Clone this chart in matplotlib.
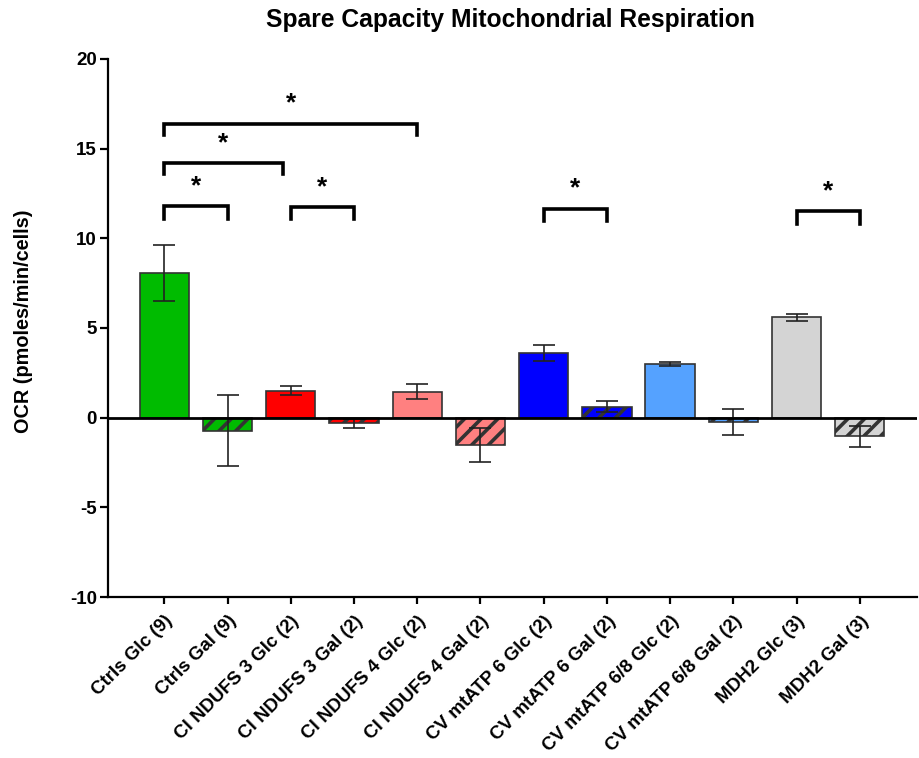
import matplotlib
matplotlib.use("Agg")
import matplotlib.pyplot as plt
import numpy as np

plt.rcParams['font.family'] = ['Liberation Sans', 'DejaVu Sans']
plt.rcParams['hatch.linewidth'] = 2.6
plt.rcParams['hatch.color'] = 'black'

labels = ["Ctrls Glc (9)", "Ctrls Gal (9)", "CI NDUFS 3 Glc (2)", "CI NDUFS 3 Gal (2)",
          "CI NDUFS 4 Glc (2)", "CI NDUFS 4 Gal (2)", "CV mtATP 6 Glc (2)", "CV mtATP 6 Gal (2)",
          "CV mtATP 6/8 Glc (2)", "CV mtATP 6/8 Gal (2)", "MDH2 Glc (3)", "MDH2 Gal (3)"]
means = [8.05, -0.72, 1.5, -0.32, 1.45, -1.55, 3.6, 0.62, 3.0, -0.25, 5.6, -1.05]
errors = [1.55, 1.97, 0.25, 0.25, 0.4, 0.95, 0.43, 0.3, 0.12, 0.73, 0.19, 0.6]
colors = ['#00BB00', '#00BB00', '#FF0000', '#FF0000', '#FF8080', '#FF8080',
          '#0000FF', '#0000FF', '#55A2FF', '#55A2FF', '#D4D4D4', '#D4D4D4']
hatched = [False, True] * 6

# significance brackets: (left bar, right bar, bracket top, leg bottom)
brackets = [(0, 1, 11.8, 11.1), (0, 1.87, 14.2, 13.6), (0, 4, 16.4, 15.75),
            (2, 3, 11.75, 11.05), (6, 7, 11.65, 10.95), (10, 11, 11.5, 10.8)]

fig = plt.figure(figsize=(9.2, 7.58), dpi=100)
ax = fig.add_axes([0.1174, 0.2124, 0.879, 0.7098])

x = np.arange(len(labels))
for i in range(len(labels)):
    ax.bar(x[i], means[i], width=0.78, color=colors[i], edgecolor='#333333', linewidth=1.2,
           hatch='//' if hatched[i] else None, zorder=2)
ax.errorbar(x, means, yerr=errors, fmt='none', ecolor='#222222', elinewidth=1.2,
            capsize=8, capthick=1.2, zorder=3)

ax.axhline(0, color='black', linewidth=2, zorder=4)

for x1, x2, top, bot in brackets:
    ax.plot([x1, x1, x2, x2], [bot, top, top, bot], color='black', linewidth=2.6,
            solid_joinstyle='miter', zorder=5)
    ax.text((x1 + x2) / 2, top + 0.45, '*', ha='center', va='bottom',
            fontsize=19, fontweight='bold')

ax.set_xlim(-0.89, 11.9)
ax.set_ylim(-10, 20)
ax.set_yticks([-10, -5, 0, 5, 10, 15, 20])
ax.set_yticklabels(['-10', '-5', '0', '5', '10', '15', '20'], fontsize=13.5, fontweight='bold')
ax.set_xticks(x)
ax.set_xticklabels(labels, rotation=45, ha='right', va='top', rotation_mode='anchor',
                   fontsize=13.5, fontweight='bold')

ax.spines['top'].set_visible(False)
ax.spines['right'].set_visible(False)
ax.spines['left'].set_linewidth(1.6)
ax.spines['bottom'].set_linewidth(1.6)
ax.tick_params(axis='y', length=6, width=1.6, pad=2)
ax.tick_params(axis='x', length=5, width=1.6, pad=6)

ax.set_ylabel('OCR (pmoles/min/cells)', fontsize=14.3, fontweight='bold')
ax.yaxis.set_label_coords(-0.093, 0.513)
fig.text(0.555, 0.974, 'Spare Capacity Mitochondrial Respiration', ha='center', va='center',
         fontsize=17.7, fontweight='bold')

fig.savefig('out.png', dpi=100)
